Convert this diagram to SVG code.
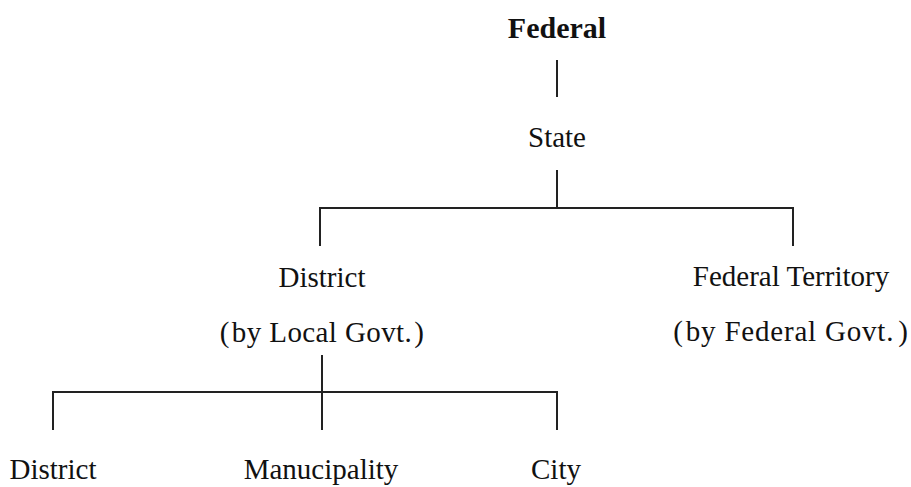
<svg xmlns="http://www.w3.org/2000/svg" width="911" height="487" viewBox="0 0 911 487">
<style>
text{font-family:"Liberation Serif","Times New Roman",serif;font-size:29px;fill:#111;text-anchor:middle}
.b{font-weight:bold;font-size:30px}
.c line{stroke:#222;stroke-width:2}
</style>
<rect width="911" height="487" fill="#fff"/>
<g class="c" id="connectors">
<line x1="557" y1="60" x2="557" y2="97"/>
<line x1="557" y1="170" x2="557" y2="208"/>
<line x1="319" y1="208" x2="794" y2="208"/>
<line x1="320" y1="207" x2="320" y2="246"/>
<line x1="793" y1="207" x2="793" y2="246"/>
<line x1="322" y1="355" x2="322" y2="430"/>
<line x1="52" y1="392" x2="558" y2="392"/>
<line x1="53" y1="391" x2="53" y2="430"/>
<line x1="557" y1="391" x2="557" y2="430"/>
</g>
<g id="federal"><text class="b" x="557" y="38">Federal</text></g>
<g id="state"><text x="557" y="147">State</text></g>
<g id="district-local"><text x="322" y="287">District</text><text x="322" y="342" letter-spacing="0.4">(<tspan dx="2">by Local Govt.</tspan><tspan dx="2">)</tspan></text></g>
<g id="federal-territory"><text x="791" y="286">Federal Territory</text><text x="791" y="341" letter-spacing="0.8">(<tspan dx="2">by Federal Govt.</tspan><tspan dx="4">)</tspan></text></g>
<g id="district"><text x="53" y="479">District</text></g>
<g id="manucipality"><text x="321" y="479">Manucipality</text></g>
<g id="city"><text x="556" y="479">City</text></g>
</svg>
